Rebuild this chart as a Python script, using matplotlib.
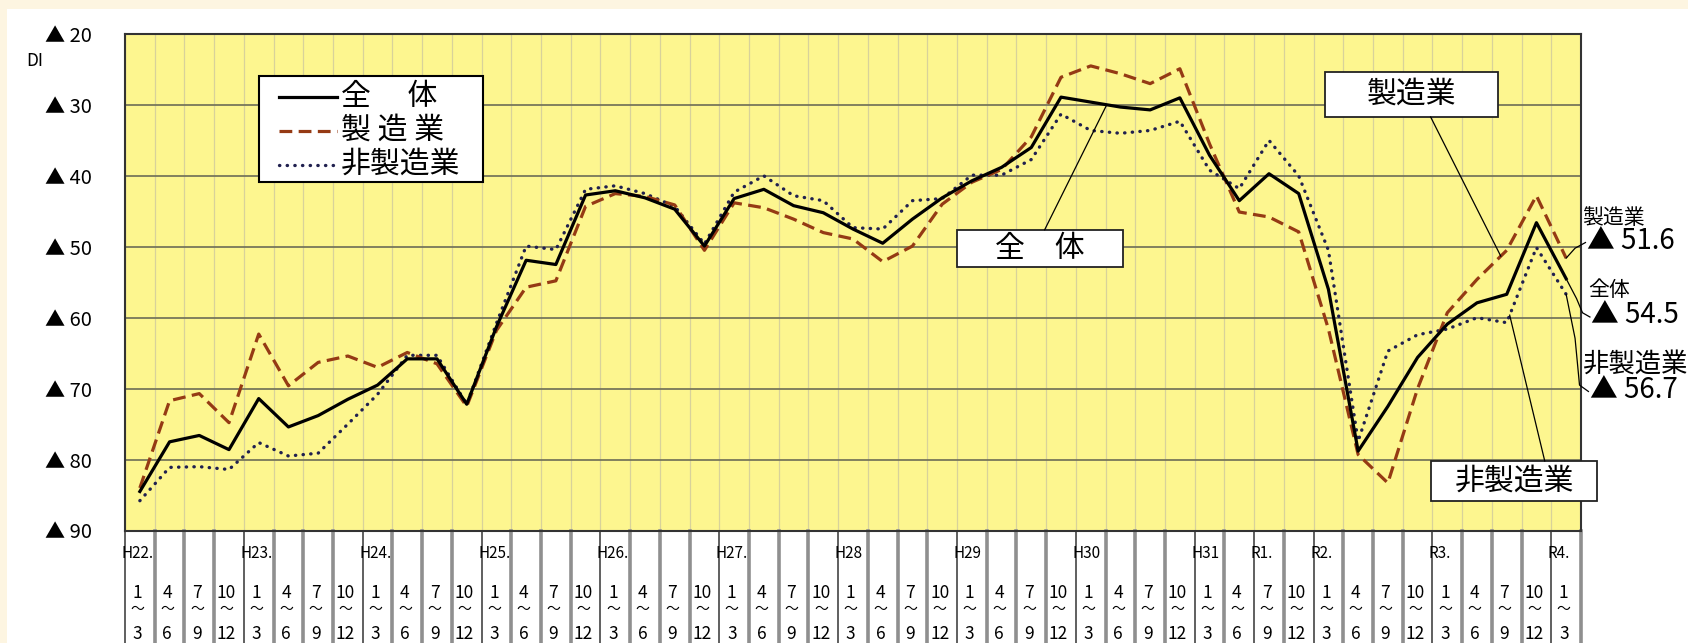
import matplotlib.pyplot as plt
import matplotlib.patches as mpatches
from matplotlib.transforms import blended_transform_factory
import numpy as np

plt.rcParams['font.family'] = ['Noto Sans CJK JP', 'DejaVu Sans']

# DI by quarter, H22 1-3 .. R4 1-3 (negative values, shown with ▲)
total = [-84.5, -77.5, -76.6, -78.6, -71.4, -75.4, -73.8, -71.5, -69.5, -65.8,
         -65.8, -72.2, -61.3, -51.9, -52.5, -42.7, -42.1, -43.1, -44.7, -49.9,
         -43.2, -41.9, -44.2, -45.2, -47.5, -49.5, -46.1, -43.1, -40.7, -38.8,
         -36.0, -28.9, -29.6, -30.3, -30.7, -29.0, -37.1, -43.5, -39.7, -42.5,
         -56.0, -78.8, -72.5, -65.6, -60.9, -57.9, -56.7, -46.6, -54.5]
manufacturing = [-84.0, -71.7, -70.7, -74.8, -62.3, -69.6, -66.3, -65.4, -67.0, -64.9,
                 -66.5, -72.5, -61.8, -55.7, -54.8, -44.3, -42.5, -42.9, -44.1, -50.5,
                 -43.8, -44.5, -46.1, -48.0, -48.9, -52.1, -49.9, -44.0, -40.9, -39.1,
                 -34.5, -26.1, -24.5, -25.6, -27.0, -24.9, -35.5, -45.1, -45.8, -47.9,
                 -61.6, -79.3, -83.3, -70.0, -59.3, -54.6, -50.5, -42.8, -51.6]
non_manufacturing = [-85.8, -81.1, -81.0, -81.4, -77.6, -79.5, -79.1, -75.0, -70.8, -65.3,
                     -65.3, -72.2, -60.8, -49.9, -50.4, -41.9, -41.4, -42.5, -44.3, -49.6,
                     -42.3, -40.0, -42.8, -43.5, -47.3, -47.5, -43.5, -43.2, -39.9, -39.9,
                     -37.7, -31.3, -33.6, -34.0, -33.6, -32.3, -39.2, -41.8, -35.0, -40.0,
                     -50.5, -77.4, -64.7, -62.4, -61.6, -60.0, -60.7, -50.1, -56.7]
series_names = ['全　 体', '製 造 業', '非製造業']

year_pos = [0, 4, 8, 12, 16, 20, 24, 28, 32, 36, 38, 40, 44, 48]
year_text = ['H22.', 'H23.', 'H24.', 'H25.', 'H26.', 'H27.', 'H28', 'H29', 'H30',
             'H31', 'R1.', 'R2.', 'R3.', 'R4.']
q_from = ['1', '4', '7', '10'] * 12 + ['1']
q_to = ['3', '6', '9', '12'] * 12 + ['3']

styles = [dict(color='black', lw=2.3),
          dict(color='#953a14', lw=2.3, dashes=(4, 2)),
          dict(color='#20204f', lw=2.4, linestyle=(0, (0.1, 2.2)), dash_capstyle='round')]

W, H = 1688, 643
fig = plt.figure(figsize=(W / 100, H / 100), dpi=100)
fig.patch.set_facecolor('#fdf5e1')
fig.add_artist(mpatches.Rectangle((7 / W, 0), 1, 1 - 9 / H, transform=fig.transFigure,
                                  facecolor='white', edgecolor='none', zorder=0))

ax = fig.add_axes([125 / W, 1 - 530.5 / H, 1456 / W, 496.5 / H])
ax.set_facecolor('#fdf68f')

x = np.arange(len(total))
for vals, st, z in zip([total, manufacturing, non_manufacturing], styles, [5, 4, 3]):
    ax.plot(x, vals, zorder=z, **st)

ax.set_xlim(-0.5, 48.5)
ax.set_ylim(-90, -20)
yt = np.arange(-90, -19, 10)
ax.set_yticks(yt)
ax.set_yticklabels(['▲ %d' % -v for v in yt])
ax.set_xticks([])
ax.set_xticks(np.arange(-0.5, 49, 1), minor=True)
ax.grid(axis='x', which='minor', color='#d8d29a', lw=0.9)
ax.grid(axis='y', which='major', color='#77775a', lw=1.3)
ax.set_axisbelow(True)
ax.tick_params(axis='x', which='both', length=0, labelbottom=False)
ax.tick_params(axis='y', length=0, pad=24, labelsize=14.5)
for s in ax.spines.values():
    s.set_color('#333333')
    s.set_linewidth(1.5)

fig.text(35 / W, 1 - 61 / H, 'DI', fontsize=12.5, ha='center', va='center')


def ax_x(px):
    return (px - 125) / 1456


def ax_y(py):
    return (530.5 - py) / 496.5


# legend box (drawn by hand to match the boxed layout)
ax.add_patch(mpatches.Rectangle((ax_x(259), ax_y(182)), ax_x(483) - ax_x(259),
                                ax_y(76) - ax_y(182), transform=ax.transAxes,
                                facecolor='white', edgecolor='black', lw=1.5, zorder=8))
for name, st, py in zip(series_names, styles, [96.5, 130.5, 164.5]):
    ax.plot([ax_x(279), ax_x(337)], [ax_y(py), ax_y(py)], transform=ax.transAxes,
            zorder=9, **st)
    ax.text(ax_x(341), ax_y(py), name, transform=ax.transAxes, fontsize=21.5,
            ha='left', va='center', zorder=9)


def label_box(x0, x1, y0, y1, text):
    ax.add_patch(mpatches.Rectangle((x0, y0), x1 - x0, y1 - y0, facecolor='white',
                                    edgecolor='#222222', lw=1.3, zorder=6, clip_on=False))
    ax.text((x0 + x1) / 2, (y0 + y1) / 2, text, ha='center', va='center',
            fontsize=21.5, zorder=7, clip_on=False)


def leader(xs, ys):
    ax.plot(xs, ys, color='black', lw=0.9, zorder=6, clip_on=False)


# callout boxes
label_box(27.5, 33.1, -52.85, -47.6, '全　体')
leader([30.45, 32.54], [-47.6, np.interp(32.54, x, total)])
label_box(39.9, 45.7, -31.7, -25.35, '製造業')
leader([43.44, 45.8], [-31.7, np.interp(45.8, x, manufacturing)])
label_box(43.45, 49.05, -85.85, -80.2, '非製造業')
leader([47.28, 46.1], [-80.2, np.interp(46.1, x, non_manufacturing)])

# end labels on the right
ax.text(48.55, -45.9, '製造業', fontsize=15, va='center', ha='left', clip_on=False)
ax.text(48.7, -49.2, '▲ %.1f' % -manufacturing[-1], fontsize=20, va='center', clip_on=False)
ax.text(48.75, -56.1, '全体', fontsize=15, va='center', ha='left', clip_on=False)
ax.text(48.85, -59.6, '▲ %.1f' % -total[-1], fontsize=20, va='center', clip_on=False)
ax.text(48.55, -66.5, '非製造業', fontsize=19, va='center', ha='left', clip_on=False)
ax.text(48.8, -70.2, '▲ %.1f' % -non_manufacturing[-1], fontsize=20, va='center', clip_on=False)
leader([48, 48.3, 48.65], [manufacturing[-1], -50.2, -49.4])
leader([48, 48.35, 48.55, 48.8], [total[-1], -57.3, -59.3, -59.9])
leader([48, 48.3, 48.45, 48.75], [non_manufacturing[-1], -62.9, -69.5, -70.4])

# category table under the plot
tr = blended_transform_factory(ax.transData, ax.transAxes)

for k in range(50):
    if k in year_pos:
        ax.plot([k - 0.5, k - 0.5], [0, ax_y(643)], color='#444444', lw=1.2,
                transform=tr, clip_on=False)
    else:
        ax.plot([k - 0.5, k - 0.5], [0, ax_y(643)], color='#8f8f8f', lw=2.6,
                transform=tr, clip_on=False)

for p, t in zip(year_pos, year_text):
    ax.text(p - 0.62, ax_y(553), t, transform=tr, fontsize=11, ha='left', va='center')

for i in range(len(q_from)):
    ax.text(i - 0.08, ax_y(593), q_from[i], transform=tr, fontsize=12.5,
            ha='center', va='center')
    ax.text(i - 0.08, ax_y(609.5), '～', transform=tr, fontsize=10,
            ha='center', va='center')
    ax.text(i - 0.08, ax_y(634), q_to[i], transform=tr, fontsize=12.5,
            ha='center', va='center')

fig.savefig('out.png', dpi=100, facecolor=fig.get_facecolor())
